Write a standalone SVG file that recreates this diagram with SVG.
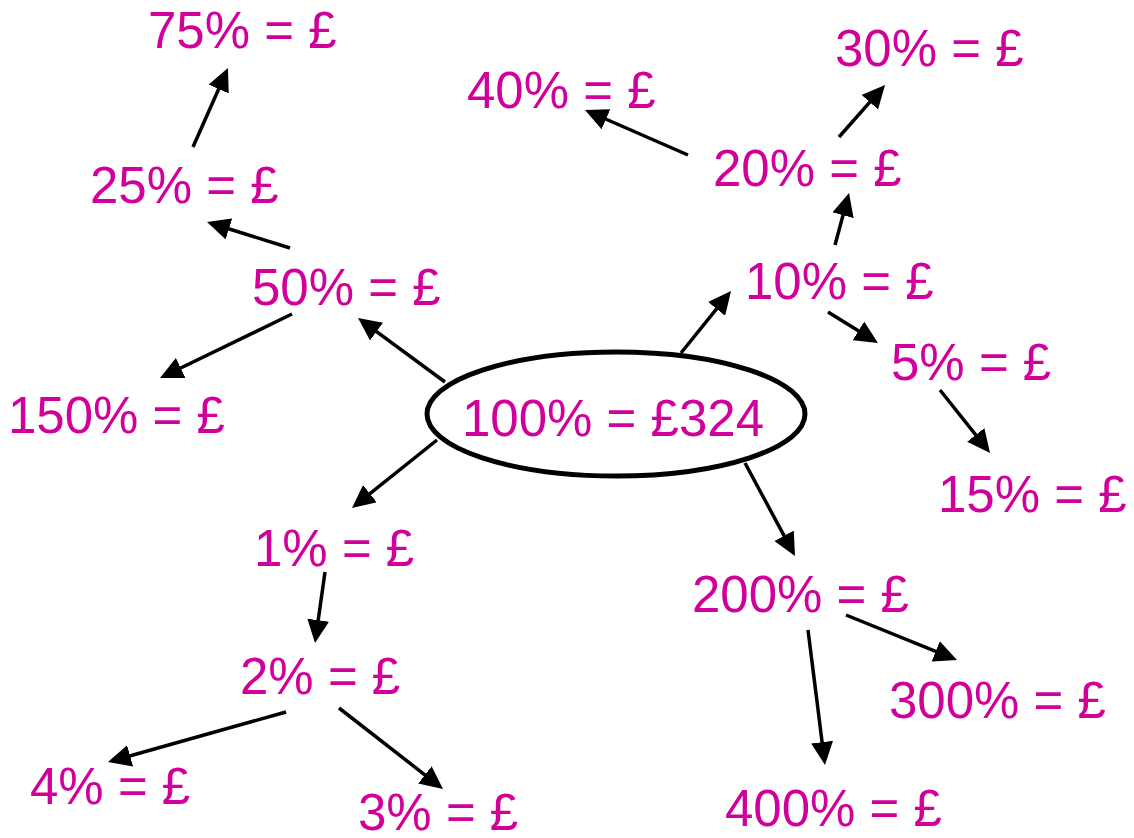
<svg xmlns="http://www.w3.org/2000/svg" width="1134" height="838" viewBox="0 0 1134 838">
<style>
text{font-family:"Liberation Sans",Arial,sans-serif;font-size:51px;fill:#D1009A}
.c line{stroke:#000;stroke-width:3.5;marker-end:url(#ah)}
</style>
<defs>
<marker id="ah" viewBox="0 0 23 22" markerWidth="23" markerHeight="22" refX="8" refY="11" orient="auto" markerUnits="userSpaceOnUse">
<path d="M0,0 L23,11 L0,22 Z" fill="#000"/>
</marker>
</defs>
<rect width="1134" height="838" fill="#fff"/>
<g class="c" id="connectors">
<line x1="193" y1="147" x2="221.9" y2="81.7"/>
<line x1="290" y1="248" x2="221.3" y2="226.5"/>
<line x1="445" y1="382" x2="370.1" y2="326.9"/>
<line x1="292" y1="314" x2="173.5" y2="371.5"/>
<line x1="437" y1="440" x2="363.7" y2="498.6"/>
<line x1="325" y1="572" x2="317.1" y2="628.1"/>
<line x1="286" y1="712" x2="122.4" y2="758"/>
<line x1="339" y1="708" x2="431.2" y2="779.8"/>
<line x1="745" y1="463" x2="787.9" y2="542.8"/>
<line x1="846" y1="615" x2="943.1" y2="654.4"/>
<line x1="808" y1="630" x2="823.1" y2="750.1"/>
<line x1="681" y1="353" x2="721.6" y2="302.7"/>
<line x1="835" y1="245" x2="845.1" y2="207.5"/>
<line x1="839" y1="137" x2="875.1" y2="96.2"/>
<line x1="688" y1="155" x2="598.7" y2="116"/>
<line x1="828" y1="312" x2="865.2" y2="335.1"/>
<line x1="940" y1="390" x2="980.7" y2="441.2"/>
</g>
<g id="n100"><ellipse cx="616" cy="414" rx="189" ry="62" fill="#fff" stroke="#000" stroke-width="5"/><text x="462" y="436">100% = £324</text></g>
<g id="n75"><text x="148" y="48">75% = £</text></g>
<g id="n25"><text x="90" y="203">25% = £</text></g>
<g id="n50"><text x="252" y="305">50% = £</text></g>
<g id="n150"><text x="8" y="433">150% = £</text></g>
<g id="n40"><text x="467" y="108">40% = £</text></g>
<g id="n30"><text x="835" y="66">30% = £</text></g>
<g id="n20"><text x="713" y="186">20% = £</text></g>
<g id="n10"><text x="745" y="299">10% = £</text></g>
<g id="n5"><text x="891" y="380">5% = £</text></g>
<g id="n15"><text x="938" y="512">15% = £</text></g>
<g id="n1"><text x="254" y="566">1% = £</text></g>
<g id="n2"><text x="240" y="694">2% = £</text></g>
<g id="n4"><text x="30" y="804">4% = £</text></g>
<g id="n3"><text x="358" y="830">3% = £</text></g>
<g id="n200"><text x="692" y="612">200% = £</text></g>
<g id="n300"><text x="889" y="718">300% = £</text></g>
<g id="n400"><text x="725" y="826">400% = £</text></g>
</svg>
